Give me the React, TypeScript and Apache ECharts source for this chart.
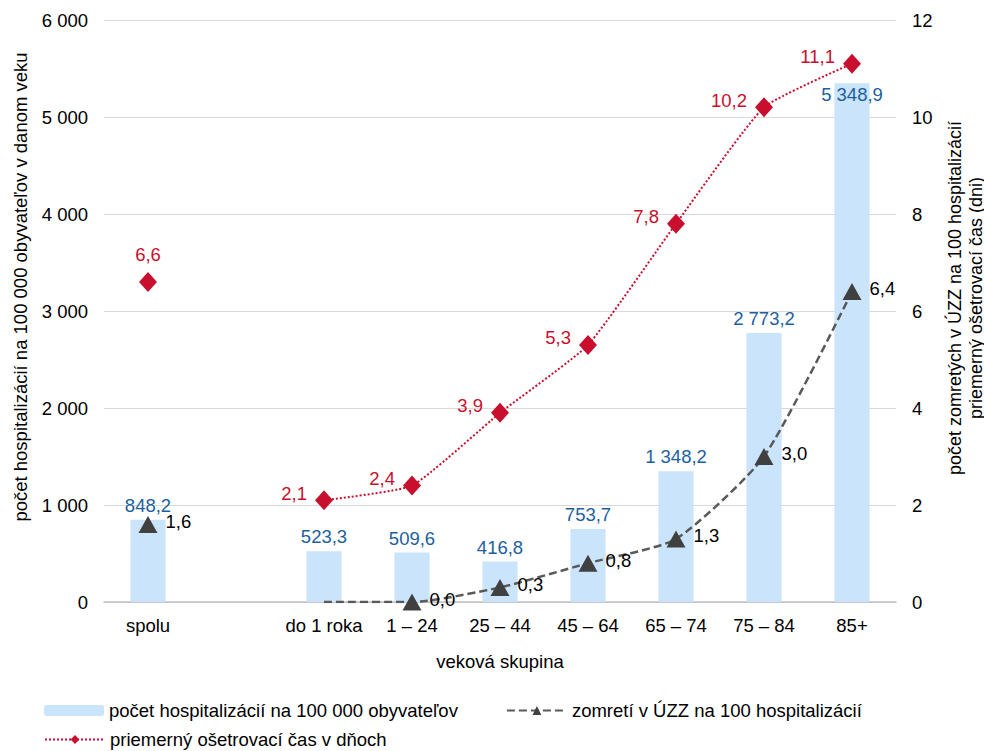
import React, { useEffect, useRef } from "react";
import * as echarts from "echarts";

const categories = ["spolu", "", "do 1 roka", "1 – 24", "25 – 44", "45 – 64", "65 – 74", "75 – 84", "85+"];
const hospitalizations = [848.2, null, 523.3, 509.6, 416.8, 753.7, 1348.2, 2773.2, 5348.9];
const deaths = [1.6, null, 0, 0.0, 0.3, 0.8, 1.3, 3.0, 6.4];
const avgStay = [6.6, null, 2.1, 2.4, 3.9, 5.3, 7.8, 10.2, 11.1];
const hiddenDeathMarkers = [2];

const seriesNames = [
  "počet hospitalizácií na 100 000 obyvateľov",
  "zomretí v ÚZZ na 100 hospitalizácií",
  "priemerný ošetrovací čas v dňoch",
];
const leftAxisTitle = "počet hospitalizácií na 100 000 obyvateľov v danom veku";
const rightAxisTitle = "počet zomretých v ÚZZ na 100 hospitalizácií\npriemerný ošetrovací čas (dni)";
const xAxisTitle = "veková skupina";

const FONT = "Liberation Sans, Arial, sans-serif";
const FS = 18.5;

function fmtNum(v: number, dec: number): string {
  const s = v.toFixed(dec);
  const [i, d] = s.split(".");
  const ii = i.replace(/\B(?=(\d{3})+(?!\d))/g, " ");
  return d !== undefined ? ii + "," + d : ii;
}

export default function App() {
  const ref = useRef<HTMLDivElement>(null);
  useEffect(() => {
    if (!ref.current) return;
    const chart = echarts.init(ref.current, undefined, { renderer: "svg" });

    const lastBar = hospitalizations.length - 1;
    const barData = hospitalizations.map((v, i) =>
      i === lastBar ? { value: v, label: { position: "insideTop", distance: 2 } } : { value: v }
    );
    const deathData = deaths.map((v, i) =>
      hiddenDeathMarkers.includes(i)
        ? { value: v, symbol: "none", label: { show: false } }
        : { value: v }
    );
    const stayData = avgStay.map((v, i) =>
      i === 0
        ? { value: v, label: { position: "top", distance: 8, offset: [0, 0] } }
        : { value: v }
    );

    chart.setOption({
      animation: false,
      textStyle: { fontFamily: FONT },
      grid: { left: 104, right: 88, top: 20, bottom: 149, containLabel: false, outerBoundsMode: "none" },
      graphic: [
        {
          type: "text",
          x: 20,
          y: 287,
          rotation: Math.PI / 2,
          style: {
            text: leftAxisTitle,
            fontSize: FS,
            fontFamily: FONT,
            fill: "#000",
            align: "center",
            verticalAlign: "middle",
          },
        },
        {
          type: "text",
          x: 965,
          y: 298,
          rotation: Math.PI / 2,
          style: {
            text: rightAxisTitle,
            fontSize: 18,
            lineHeight: 21,
            fontFamily: FONT,
            fill: "#000",
            align: "center",
            verticalAlign: "middle",
          },
        },
      ],
      legend: [
        {
          data: [seriesNames[0], seriesNames[1]],
          left: 44,
          top: 701,
          itemWidth: 60,
          itemHeight: 11,
          itemGap: 48,
          padding: 0,
          textStyle: { fontSize: FS, color: "#000", fontFamily: FONT },
        },
        {
          data: [seriesNames[2]],
          left: 44,
          top: 730,
          itemWidth: 60,
          itemHeight: 11,
          padding: 0,
          textStyle: { fontSize: FS, color: "#000", fontFamily: FONT },
        },
      ],
      xAxis: {
        type: "category",
        data: categories,
        name: xAxisTitle,
        nameLocation: "middle",
        nameGap: 50,
        nameTextStyle: { fontSize: FS, color: "#000", fontFamily: FONT },
        axisLine: { lineStyle: { color: "#bfbfbf", width: 1.5 } },
        axisTick: { show: false },
        axisLabel: { interval: 0, fontSize: FS, color: "#000", margin: 14, fontFamily: FONT },
      },
      yAxis: [
        {
          type: "value",
          min: 0,
          max: 6000,
          interval: 1000,
          axisLine: { show: false },
          axisTick: { show: false },
          axisLabel: {
            fontSize: FS,
            color: "#000",
            margin: 16,
            fontFamily: FONT,
            formatter: (v: number) => fmtNum(v, 0),
          },
          splitLine: { lineStyle: { color: "#d9d9d9", width: 1 } },
        },
        {
          type: "value",
          min: 0,
          max: 12,
          interval: 2,
          axisLine: { show: false },
          axisTick: { show: false },
          axisLabel: { fontSize: FS, color: "#000", margin: 16, fontFamily: FONT },
          splitLine: { show: false },
        },
      ],
      series: [
        {
          name: seriesNames[0],
          type: "bar",
          yAxisIndex: 0,
          data: barData,
          barWidth: "40%",
          itemStyle: { color: "#cae5fb" },
          label: {
            show: true,
            position: "top",
            distance: 5,
            fontSize: FS,
            color: "#1d5f9e",
            fontFamily: FONT,
            formatter: (p: any) => fmtNum(p.value, 1),
          },
          z: 1,
        },
        {
          name: seriesNames[1],
          type: "line",
          yAxisIndex: 1,
          data: deathData,
          smooth: 0.2,
          connectNulls: false,
          symbol: "triangle",
          symbolSize: [19, 17],
          itemStyle: { color: "#404040" },
          lineStyle: { color: "#595959", width: 2.5, type: [8, 4] },
          label: {
            show: true,
            position: "right",
            distance: 6,
            offset: [2, -3],
            fontSize: FS,
            color: "#000",
            fontFamily: FONT,
            formatter: (p: any) => fmtNum(p.value, 1),
          },
          z: 3,
        },
        {
          name: seriesNames[2],
          type: "line",
          yAxisIndex: 1,
          data: stayData,
          smooth: 0.15,
          connectNulls: false,
          symbol: "diamond",
          symbolSize: [18, 20],
          itemStyle: { color: "#c8102e" },
          lineStyle: { color: "#c8102e", width: 2, type: "dotted" },
          label: {
            show: true,
            position: "left",
            distance: 8,
            offset: [0, -7],
            fontSize: FS,
            color: "#c8102e",
            fontFamily: FONT,
            formatter: (p: any) => fmtNum(p.value, 1),
          },
          z: 4,
        },
      ],
    });
    return () => chart.dispose();
  }, []);
  return <div ref={ref} style={{ width: 984, height: 751, position: "absolute", left: 0, top: 0 }} />;
}
